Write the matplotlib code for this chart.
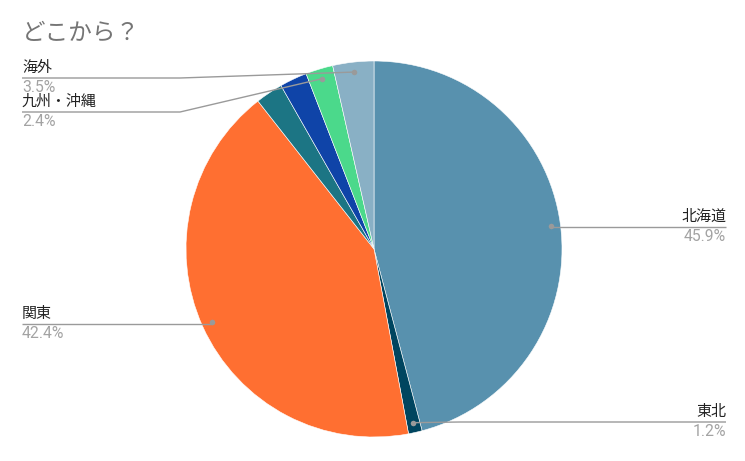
import numpy as np
import matplotlib
matplotlib.use("Agg")
import matplotlib.pyplot as plt

plt.rcParams['font.family'] = ['Noto Sans CJK JP', 'DejaVu Sans']

# ========== DATA ==========
regions = ["北海道", "東北", "関東", "その他A", "その他B", "九州・沖縄", "海外"]
counts = [39, 1, 36, 2, 2, 2, 3]
colors = ["#5891ae", "#00455f", "#ff6f31", "#1c7584", "#0f44a8", "#4bd98b", "#89b0c5"]
labeled = ["北海道", "東北", "関東", "九州・沖縄", "海外"]

# label placement: (line y, elbow x, end x, side)  in pixels from top-left
label_pos = {
    "北海道": (227, None, 726, "right"),
    "東北": (422, 460, 726, "right"),
    "関東": (324, None, 22, "left"),
    "海外": (78, 180, 22, "left"),
    "九州・沖縄": (112, 180, 22, "left"),
}

W, H = 745, 461
cx, cy, R = 374, 249, 188

fig = plt.figure(figsize=(W / 100, H / 100), dpi=100)
ax = fig.add_axes([0, 0, 1, 1])

wedges, _ = ax.pie(counts, colors=colors, startangle=90, counterclock=False,
                   center=(cx, H - cy), radius=R, frame=True,
                   wedgeprops=dict(linewidth=0.4, edgecolor="#ffffff"))
ax.set_xlim(0, W)
ax.set_ylim(0, H)
ax.axis("off")

total = sum(counts)
line_col = "#9a9a9a"
for w, name, c in zip(wedges, regions, counts):
    if name not in labeled:
        continue
    mid = np.deg2rad((w.theta1 + w.theta2) / 2)
    dx = cx + 0.947 * R * np.cos(mid)
    dy = (H - cy) + 0.947 * R * np.sin(mid)
    ly, ex, endx, side = label_pos[name]
    ly = H - ly
    xs = [dx] + ([ex] if ex is not None else []) + [endx]
    ys = [dy] + ([ly] if ex is not None else []) + [ly]
    if ex is None:
        ys[0] = ly if abs(dy - ly) < 4 else dy
    ax.plot(xs, ys, color=line_col, lw=1.0, solid_capstyle="butt")
    ax.plot(dx, dy, "o", color=line_col, ms=4, mec="none")
    ha = "right" if side == "right" else "left"
    ax.text(endx, ly + 3, name, ha=ha, va="bottom", fontsize=10.8, color="#222222")
    ax.text(endx, ly - 2, f"{c / total * 100:.1f}%", ha=ha, va="top",
            fontsize=11.3, color="#a3a3a3", family=["Roboto", "DejaVu Sans"])

ax.text(22, H - 33, "どこから？", ha="left", va="center", fontsize=17, color="#757575")

fig.savefig("out.png", dpi=100)
